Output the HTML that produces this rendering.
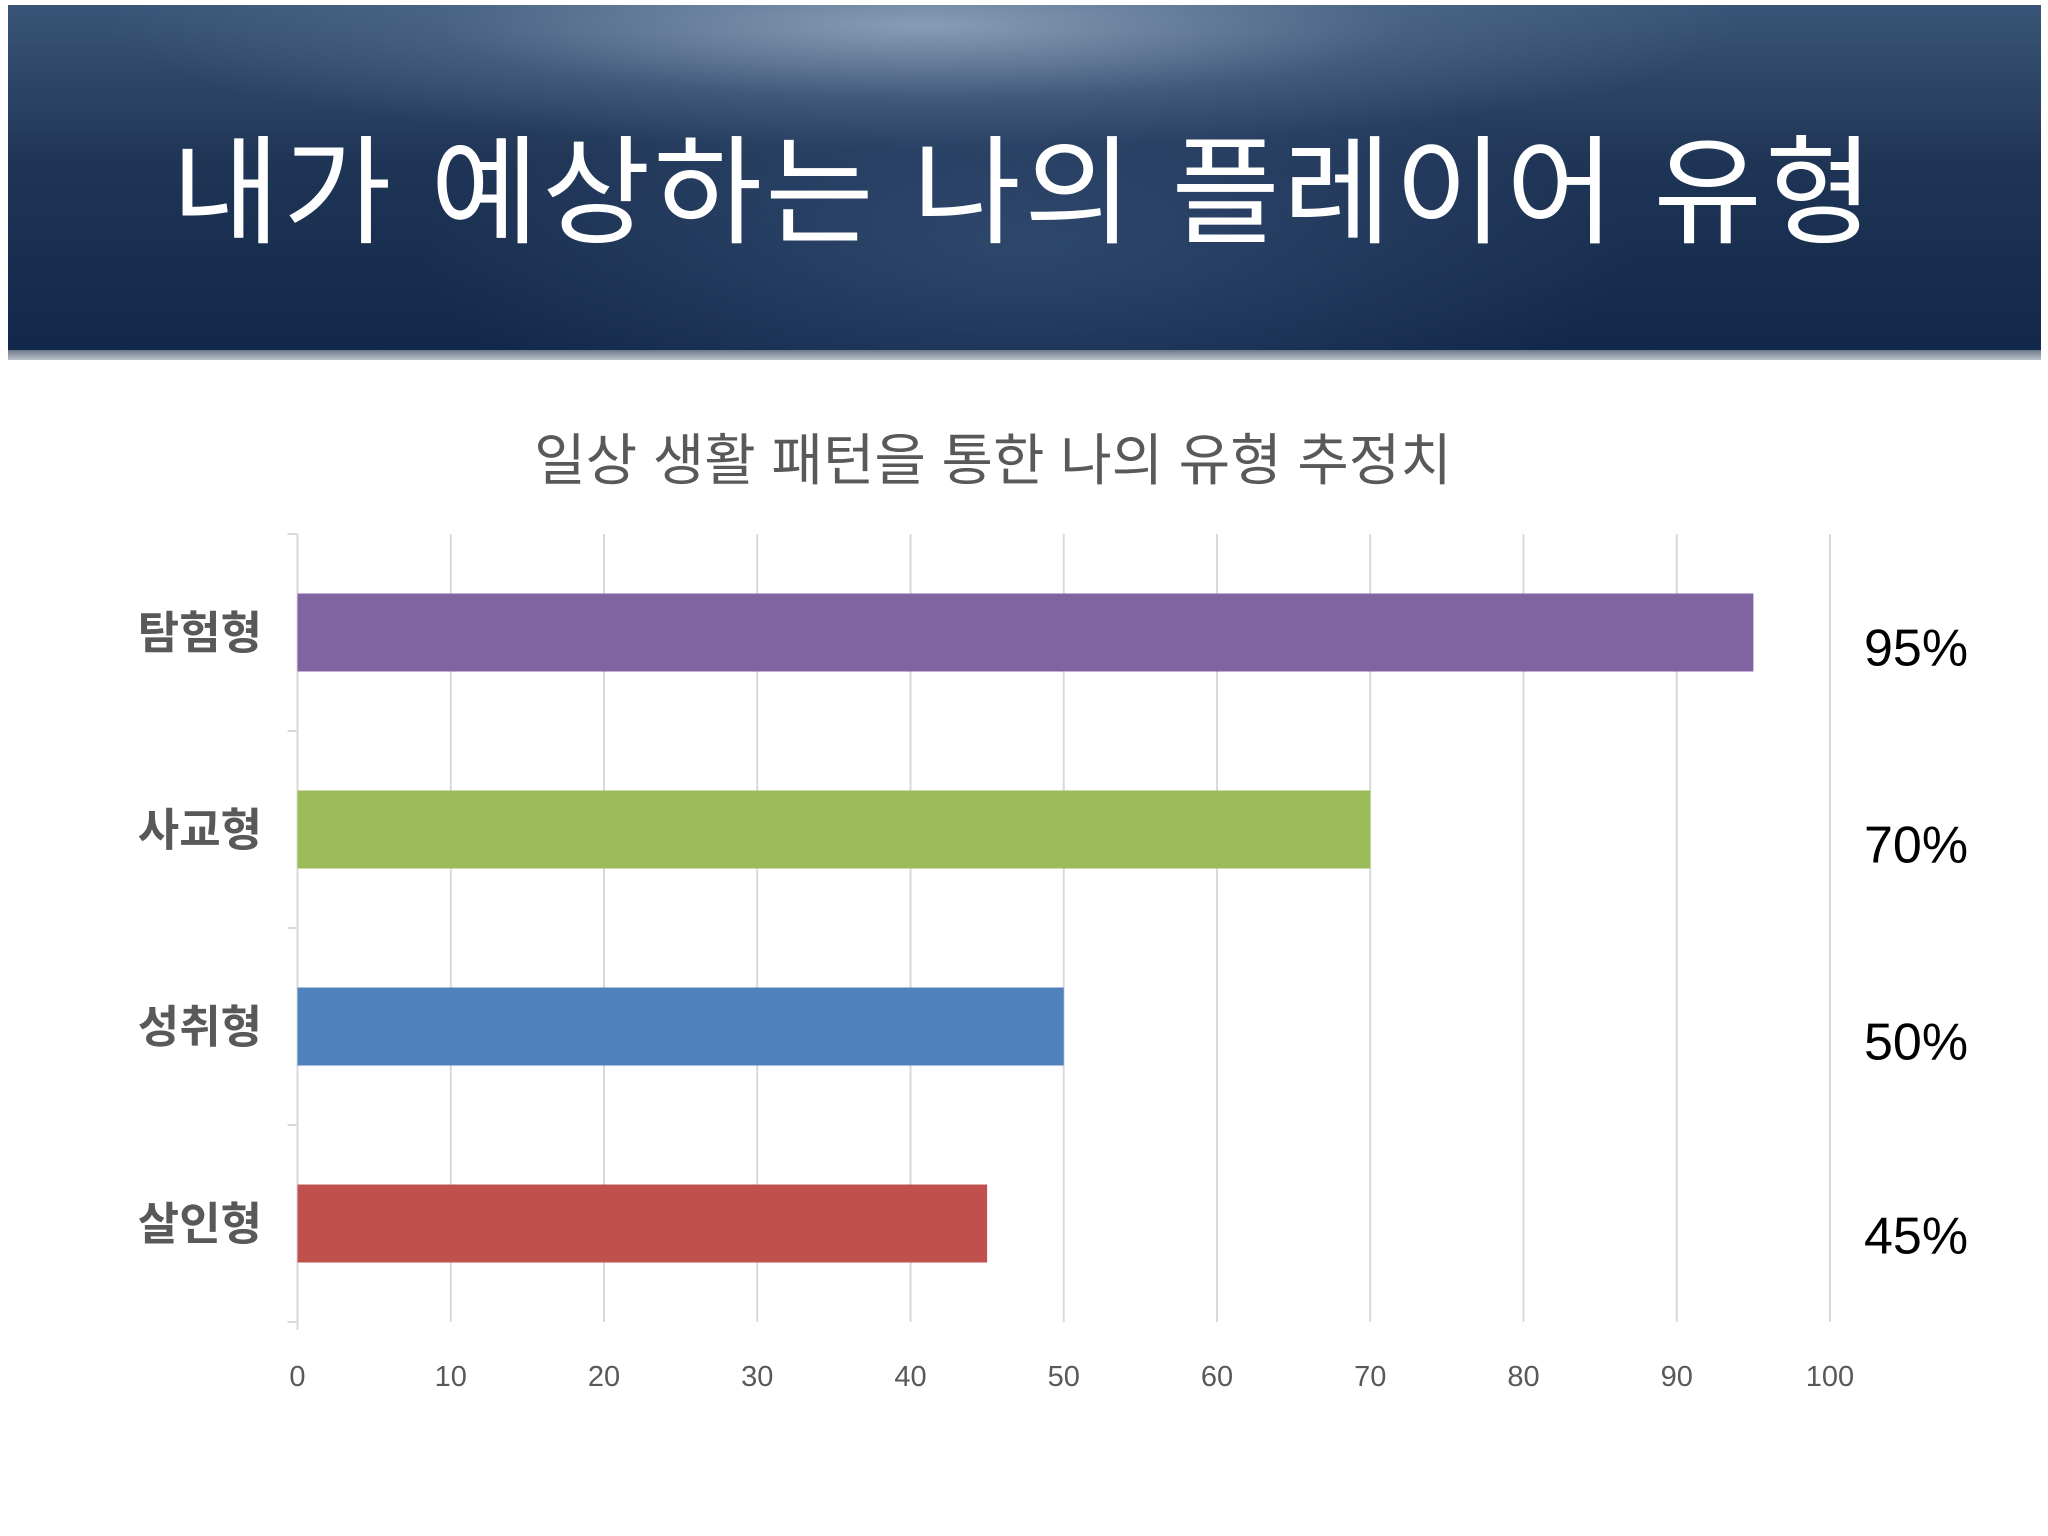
<!DOCTYPE html>
<html><head><meta charset="utf-8"><style>
html,body{margin:0;padding:0;background:#fff;width:2048px;height:1536px;overflow:hidden;font-family:"Liberation Sans","Noto Sans CJK KR",sans-serif}
#header{position:absolute;left:8px;top:5px;width:2033px;height:348px;
background:radial-gradient(ellipse 40% 35% at 45% 6%,rgba(170,190,210,0.7),rgba(110,135,165,0.3) 60%,rgba(0,0,0,0) 100%),
radial-gradient(ellipse 30% 60% at 50% 70%,rgba(70,100,140,0.45),rgba(0,0,0,0)),
linear-gradient(180deg,#3a5577 0%,#1f3556 45%,#12284a 100%);}
#hbar{position:absolute;left:8px;top:350px;width:2033px;height:10px;background:linear-gradient(#6d7a8c,#b9c0c9)}
#title{position:absolute;left:0;width:2048px;top:124px;text-align:center;color:#fff;font-size:118px;line-height:140px;letter-spacing:3px;font-family:"Liberation Sans","Noto Sans CJK KR",sans-serif}
svg{position:absolute;left:0;top:0}
</style></head><body>
<div id="header"></div>
<div id="hbar"></div>
<div id="title">내가 예상하는 나의 플레이어 유형</div>
<svg id="chart" width="2048" height="1536"></svg>
<script>
const categories=["탐험형","사교형","성취형","살인형"];
const values=[95,70,50,45];
const valueLabels=["95%","70%","50%","45%"];
const ticks=[0,10,20,30,40,50,60,70,80,90,100];
const colors=["#8064a2","#9bbb59","#4f81bd","#c0504d"];
const NS="http://www.w3.org/2000/svg";
const svg=document.getElementById('chart');
const X0=297.5,X1=1830,Y0=534,Y1=1322;
const xs=v=>X0+(v-0)/(100-0)*(X1-X0);
const band=(Y1-Y0)/categories.length;
const yc=i=>Y0+band*(i+0.5);
function mk(tag,attrs,text){const e=document.createElementNS(NS,tag);for(const k in attrs)e.setAttribute(k,attrs[k]);if(text!==undefined)e.textContent=text;svg.appendChild(e);return e;}
let t=mk('text',{x:993,y:480,'text-anchor':'middle','font-size':56,fill:'#595959'},'일상 생활 패턴을 통한 나의 유형 추정치');


ticks.forEach(v=>{
 const g=mk('line',{x1:xs(v),x2:xs(v),y1:Y0,y2:v===0?Y1+8:Y1,stroke:'#d9d9d9','stroke-width':2});
 
 
 const l=mk('text',{x:xs(v),y:1386,'text-anchor':'middle','font-size':29,fill:'#595959'},String(v));
 
 
});
for(let i=0;i<=categories.length;i++){
 const tk=mk('line',{x1:X0-10,x2:X0,y1:Y0+band*i,y2:Y0+band*i,stroke:'#d9d9d9','stroke-width':2});
 
 
}
categories.forEach((c,i)=>{
 const h=78;
 const b=mk('rect',{x:X0,y:yc(i)-h/2,width:xs(values[i])-X0,height:h,fill:colors[i]});
 
 
 const l=mk('text',{x:262,y:yc(i)+16,'text-anchor':'end','font-size':45,'font-weight':'bold',fill:'#595959'},c);
 
 
});
valueLabels.forEach((v,i)=>{
 const l=mk('text',{x:1864,y:yc(i)+33-(i===3?3:0),'font-size':52,fill:'#000'},v);
 
 
});
</script>
</body></html>
